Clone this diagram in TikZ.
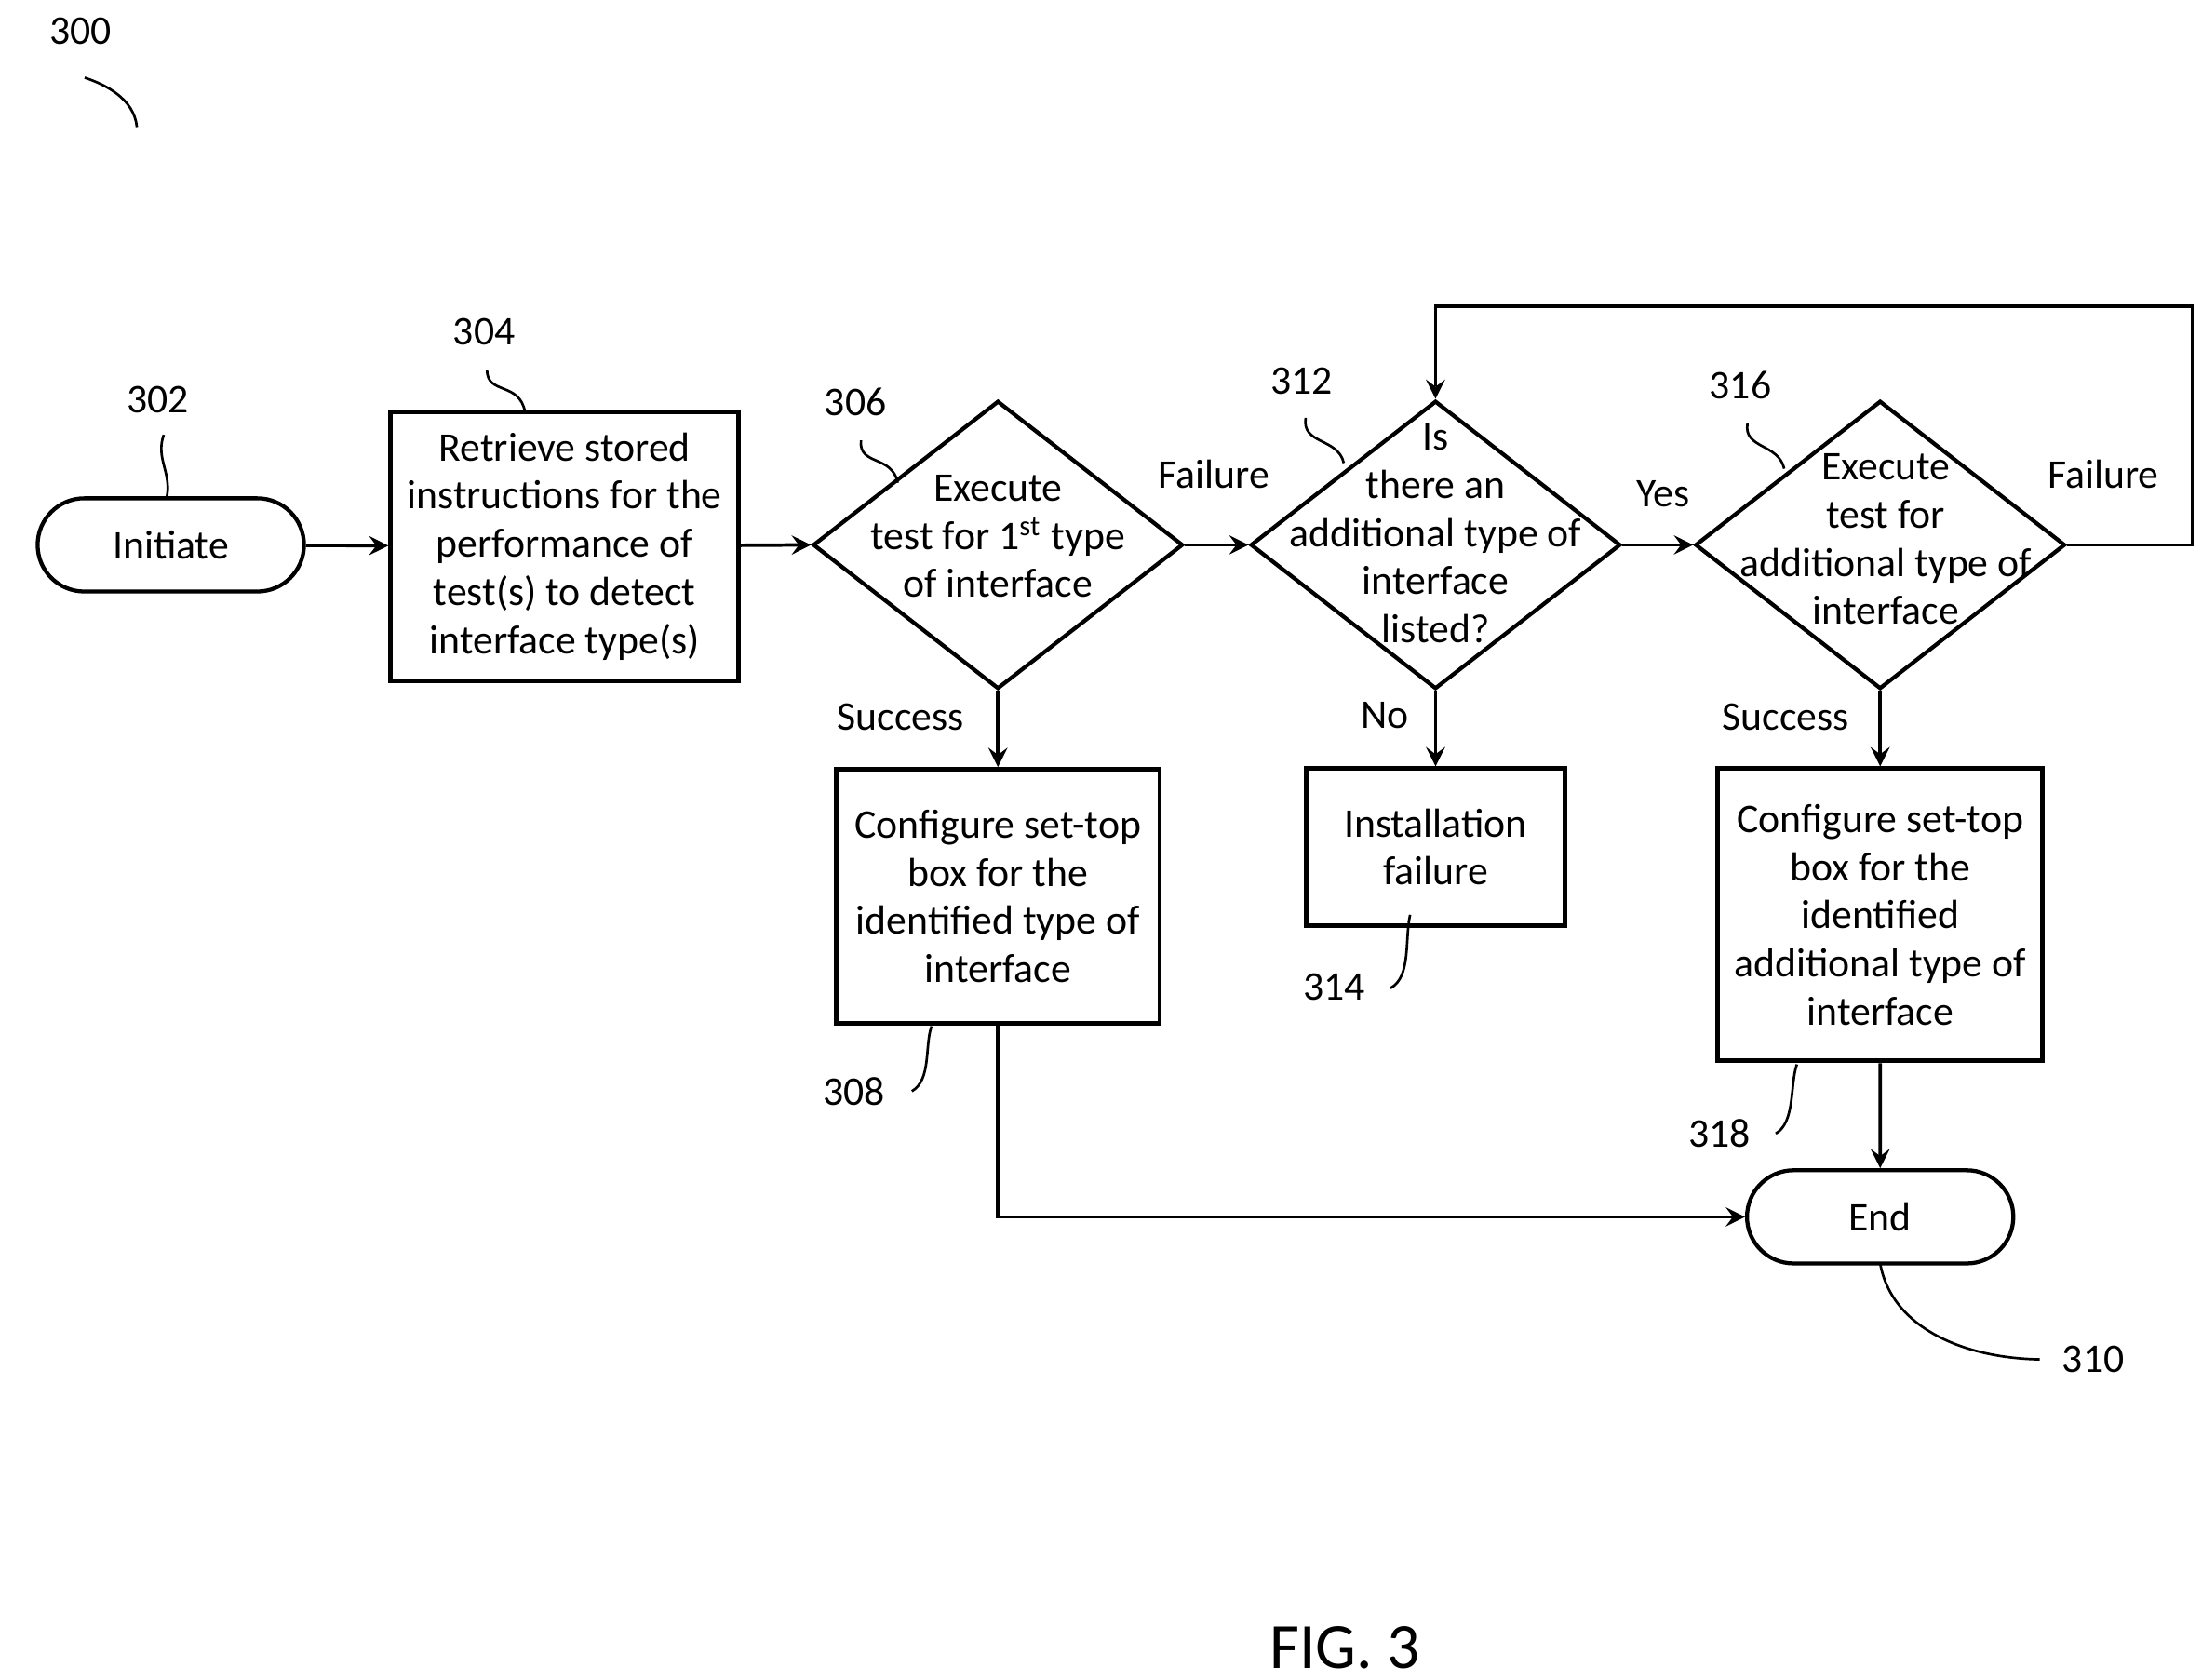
\documentclass[tikz,border=0pt]{standalone}
\usepackage{fontspec}
\setmainfont{Carlito}
\usetikzlibrary{shapes.geometric,positioning}
\tikzset{
  box/.style={draw, line width=0.9pt, minimum width=#1, align=center, inner sep=0pt},
  term/.style={draw, rounded rectangle, line width=0.8pt, minimum width=2.12cm, minimum height=0.66cm},
  dec/.style={draw, diamond, line width=0.8pt, minimum width=2.62cm, minimum height=2.04cm, inner sep=0pt},
  lbl/.style={font=\fontsize{8.2}{9.7}\selectfont},
  flow/.style={->, >=stealth, line width=0.7pt},
  tag/.style={line width=0.5pt}
}
\usetikzlibrary{shapes.misc}
\begin{document}
\begin{tikzpicture}[x=0.01cm, y=-0.01cm, font=\fontsize{8.2}{9.7}\selectfont]
\useasboundingbox (0,0) rectangle (1560,1190);

% terminals and process boxes
\node [term] (init) at (121,386) {Initiate};
\node [draw, line width=0.9pt, minimum width=2.43cm, minimum height=1.9cm, align=center] (retr) at (400,387)
  {Retrieve stored\\instructions for the\\performance of\\test(s) to detect\\interface type(s)};
\node [dec] (t1) at (707,386) {};
\node [align=center] at (707,380) {Execute\\test for 1\textsuperscript{st} type\\of interface};
\node [dec] (more) at (1017,386) {};
\node [align=center] at (1017,378) {Is\\there an\\additional type of\\interface\\listed?};
\node [dec] (t2) at (1332,386) {};
\node [align=center] at (1336,382) {Execute\\test for\\additional type of\\interface};
\node [draw, line width=0.9pt, minimum width=2.29cm, minimum height=1.8cm, align=center] (cfg1) at (707,635)
  {Configure set-top\\box for the\\identified type of\\interface};
\node [draw, line width=0.9pt, minimum width=1.83cm, minimum height=1.11cm, align=center] (fail) at (1017,600)
  {Installation\\failure};
\node [draw, line width=0.9pt, minimum width=2.3cm, minimum height=2.07cm, align=center] (cfg2) at (1332,648)
  {Configure set-top\\box for the\\identified\\additional type of\\interface};
\node [term] (end) at (1332,862) {End};

% connectors
\draw [flow] (init) -- (retr);
\draw [flow] (retr) -- (t1.west);
\draw [flow] (t1.east) -- (more.west);
\draw [flow] (more.east) -- (t2.west);
\draw [flow] (t1.south) -- (cfg1);
\draw [flow] (more.south) -- (fail);
\draw [flow] (t2.south) -- (cfg2);
\draw [flow] (cfg2) -- (end);
\draw [flow] (cfg1.south) |- (end.west);
\coordinate (loopR) at (1553,217);
\draw [flow] (t2.east) -- (loopR |- t2.east) -- (loopR) -| (more.north);

% branch labels
\node at (638,508) {Success};
\node at (860,336) {Failure};
\node at (981,507) {No};
\node at (1178,350) {Yes};
\node at (1265,508) {Success};
\node at (1490,336) {Failure};

% reference numerals
\node (n300) at (57,22) {300};
\draw [tag] (60,55) .. controls (75,60) and (95,70) .. (97,90);
\node (n302) at (112,283) {302};
\draw [tag] (116,308) .. controls (110,325) and (122,335) .. (118,353);
\node (n304) at (343,235) {304};
\draw [tag] (345,262) .. controls (345,280) and (368,270) .. (372,292);
\node (n306) at (606,285) {306};
\draw [tag] (610,312) .. controls (608,330) and (632,322) .. (636,342);
\node (n312) at (922,270) {312};
\draw [tag] (925,296) .. controls (922,315) and (948,310) .. (952,328);
\node (n316) at (1233,273) {316};
\draw [tag] (1238,300) .. controls (1235,318) and (1260,314) .. (1264,332);
\node (n308) at (605,773) {308};
\draw [tag] (646,773) .. controls (660,765) and (655,740) .. (660,727);
\node (n314) at (945,699) {314};
\draw [tag] (985,700) .. controls (1000,692) and (995,665) .. (999,648);
\node (n318) at (1218,803) {318};
\draw [tag] (1258,803) .. controls (1272,795) and (1268,768) .. (1273,754);
\node (n310) at (1483,963) {310};
\draw [tag] (1332,895) .. controls (1340,940) and (1390,962) .. (1445,963);

\node [font=\fontsize{13}{15}\selectfont] at (953,1167) {FIG. 3};
\end{tikzpicture}
\end{document}
